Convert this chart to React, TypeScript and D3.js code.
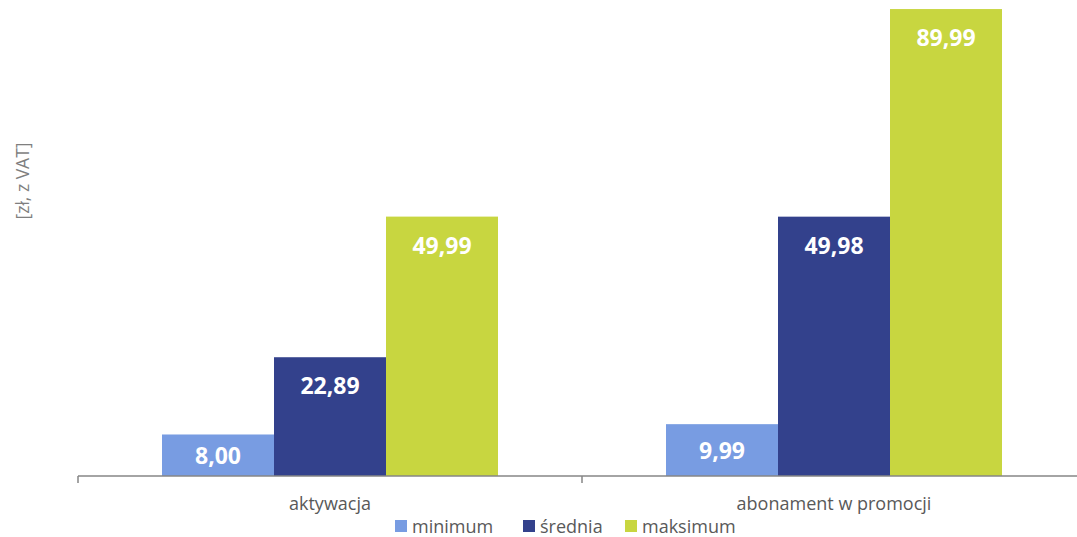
import React from "react";
import * as d3 from "d3";

const categories = ["aktywacja", "abonament w promocji"];
const seriesNames = ["minimum", "średnia", "maksimum"];
const minimumValues = [8.0, 9.99];
const sredniaValues = [22.89, 49.98];
const maksimumValues = [49.99, 89.99];
const seriesColors = ["#789CE2", "#33418C", "#C8D640"];
const yAxisTitle = "[zł, z VAT]";

const W = 1077;
const H = 537;
const FONT = "'Open Sans', sans-serif";

export default function App() {
  const values = [minimumValues, sredniaValues, maksimumValues];
  const x0 = d3.scaleBand<string>().domain(categories).range([78, 1086]).paddingInner(0).paddingOuter(0);
  const x1 = d3
    .scaleBand<string>()
    .domain(seriesNames)
    .range([0, x0.bandwidth()])
    .paddingInner(0)
    .paddingOuter(0.75);
  const y = d3.scaleLinear().domain([0, 90]).range([476, 9]);
  const fmt = (v: number) => v.toFixed(2).replace(".", ",");

  const legendItems = [
    { name: seriesNames[0], x: 395 },
    { name: seriesNames[1], x: 523 },
    { name: seriesNames[2], x: 625 },
  ];

  const ticks = [...categories.map((c) => x0(c)!), x0.range()[1]];

  return (
    <svg width={W} height={H} style={{ position: "absolute", left: 0, top: 0, background: "#fff" }}>
      <text
        transform={`translate(22,181) rotate(-90)`}
        textAnchor="middle"
        dominantBaseline="central"
        fontFamily={FONT}
        fontSize={17.5}
        fill="#7f7f7f"
      >
        {yAxisTitle}
      </text>
      {categories.map((c, ci) => (
        <g key={c} transform={`translate(${x0(c)},0)`}>
          {seriesNames.map((s, si) => {
            const v = values[si][ci];
            const top = y(v);
            const bottom = y(0);
            const ly = Math.min(top + 28, (top + bottom) / 2);
            return (
              <g key={s}>
                <rect x={x1(s)} y={top} width={x1.bandwidth()} height={bottom - top} fill={seriesColors[si]} />
                <text
                  x={x1(s)! + x1.bandwidth() / 2}
                  y={ly}
                  textAnchor="middle"
                  dominantBaseline="central"
                  fontFamily={FONT}
                  fontWeight="bold"
                  fontSize={23}
                  fill="#ffffff"
                >
                  {fmt(v)}
                </text>
              </g>
            );
          })}
          <text
            x={x0.bandwidth() / 2}
            y={503}
            textAnchor="middle"
            dominantBaseline="central"
            fontFamily={FONT}
            fontSize={18}
            fill="#595959"
          >
            {c}
          </text>
        </g>
      ))}
      <line x1={x0.range()[0]} x2={x0.range()[1]} y1={y(0)} y2={y(0)} stroke="#868686" strokeWidth={1.5} />
      {ticks.map((t, i) => (
        <line key={i} x1={t} x2={t} y1={y(0)} y2={y(0) + 7} stroke="#868686" strokeWidth={1.5} />
      ))}
      {legendItems.map((l, i) => (
        <g key={l.name}>
          <rect x={l.x} y={520} width={12} height={12} fill={seriesColors[i]} />
          <text
            x={l.x + 17}
            y={526}
            dominantBaseline="central"
            fontFamily={FONT}
            fontSize={18}
            fill="#595959"
          >
            {l.name}
          </text>
        </g>
      ))}
    </svg>
  );
}
